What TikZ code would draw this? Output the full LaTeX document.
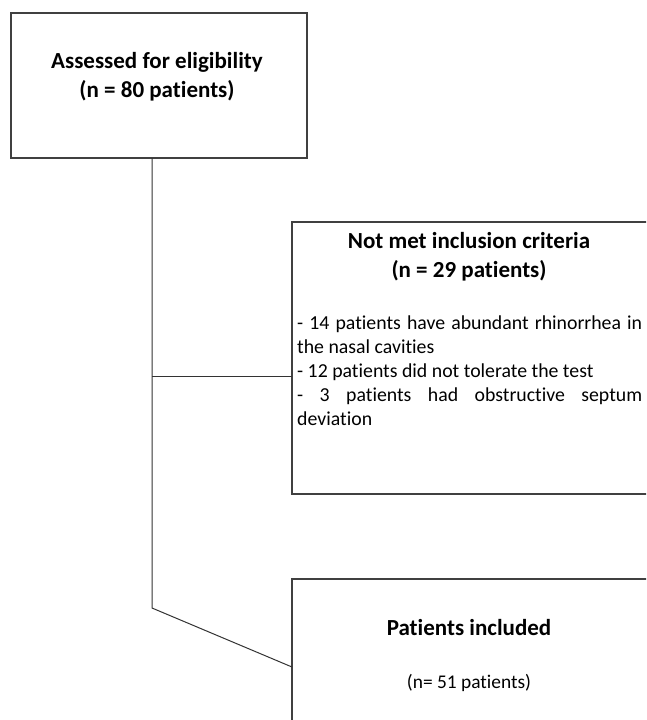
\documentclass[tikz,border=0pt]{standalone}
\usepackage{fontspec}
\setmainfont{Carlito}[Ligatures=NoCommon]
\tikzset{
  box/.style={draw=black!75, line width=1.2pt, fill=white, inner sep=0pt, outer sep=0pt},
  conn/.style={draw=black!80, line width=1pt},
  title/.style={font=\fontsize{23}{29}\selectfont\bfseries, align=center, inner sep=0pt},
  body/.style={font=\fontsize{19.8}{23.9}\selectfont, inner sep=0pt, text width=345pt, align=justify},
  plain/.style={font=\fontsize{19.4}{23.7}\selectfont, inner sep=0pt}
}
\begin{document}
\begin{tikzpicture}[x=1pt,y=-1pt]
\useasboundingbox (0,0) rectangle (646,720);
\clip (0,0) rectangle (646,720);
\fill[white] (0,0) rectangle (646,720);
% boxes
\node[box, minimum width=296pt, minimum height=145pt] (b1) at (159,85.5) {};
\node[box, minimum width=380pt, minimum height=272pt, anchor=north west] (b2) at (292,222) {};
\node[box, minimum width=380pt, minimum height=176pt, anchor=north west] (b3) at (292,579) {};
% connectors
\coordinate (j1) at (152,376);
\coordinate (j2) at (152,608);
\draw[conn] (b1.south -| j1) -- (j2) -- (b3.west);
\draw[conn] (j1) -- (b2.west |- j1);
% texts
\node[title] (t1) at (157,77) {Assessed for eligibility\\(n = 80 patients)};
\node[title] (t2) at (469,257) {Not met inclusion criteria\\(n = 29 patients)};
\node[body, anchor=north west] (t3) at (297,316) {%
- 14 patients have abundant rhinorrhea in\linebreak the nasal cavities\par
- 12 patients did not tolerate the test\par
- 3 patients had obstructive septum\linebreak deviation};
\node[title] (t4) at (469,628) {Patients included};
\node[plain] (t5) at (469,683) {(n= 51 patients)};
\end{tikzpicture}
\end{document}
